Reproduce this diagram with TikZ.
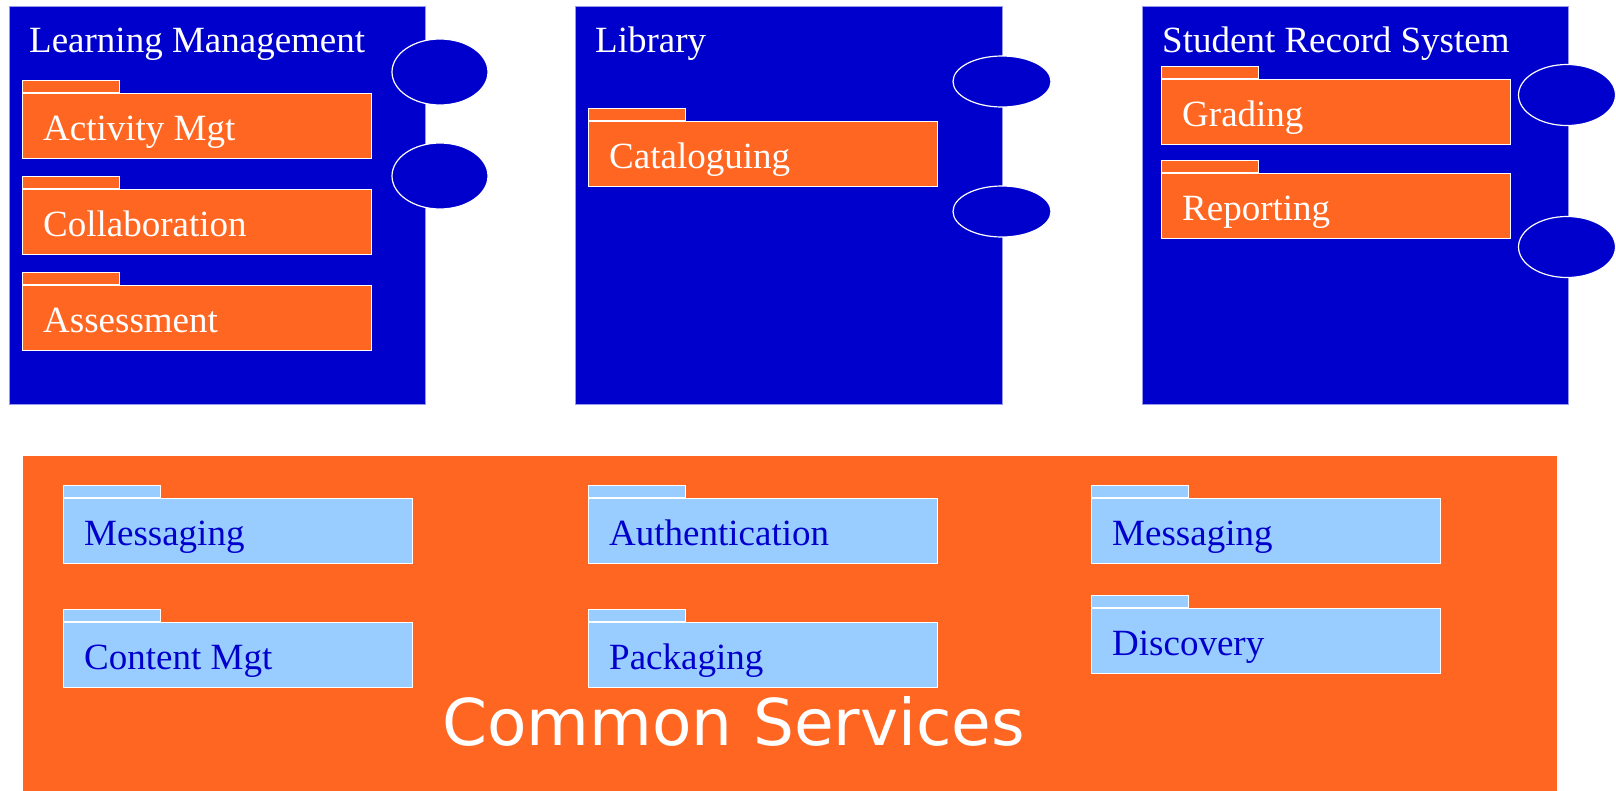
\documentclass[tikz,border=0pt]{standalone}
\usepackage{fontspec}
\setmainfont{Liberation Serif}
\newfontfamily\commonfont{DejaVu Sans}
\usetikzlibrary{shapes.geometric,positioning}
\definecolor{sysblue}{HTML}{0000CC}
\definecolor{pkgorange}{HTML}{FF6622}
\definecolor{pkglight}{HTML}{99CCFF}

% package folder: name, position, fill, text colour, label
\newcommand{\folder}[5]{%
  \node[pkgbody, fill=#3] (#1) at #2 {};
  \node[pkgtab, fill=#3] (#1-tab) at (#1.north west) {};
  \node[pkglabel, text=#4] (#1-text) at ([xshift=21pt,yshift=19pt]#1.south west) {#5};}

\begin{document}
\begin{tikzpicture}[x=1pt, y=-1pt,
    sysbox/.style={rectangle, fill=sysblue, draw=white!60!sysblue, line width=0.6pt, anchor=north west, inner sep=0pt, minimum height=398},
    systitle/.style={anchor=base west, inner sep=0pt, text=white, font=\fontsize{37}{40}\selectfont},
    pkgbody/.style={rectangle, draw=white, line width=1.2pt, inner sep=0pt, minimum width=349, minimum height=65, anchor=north west},
    pkgtab/.style={rectangle, draw=white, line width=1.2pt, inner sep=0pt, minimum width=97, minimum height=12, anchor=south west},
    pkglabel/.style={anchor=base west, inner sep=0pt, font=\fontsize{37}{40}\selectfont},
    iface/.style={ellipse, fill=sysblue, draw=white, line width=1.2pt, inner sep=0pt}]
  \useasboundingbox[fill=white] (0,0) rectangle (1616,790);

  % systems
  \node[sysbox, minimum width=416] (lm) at (9,6) {};
  \node[sysbox, minimum width=427] (lib) at (575,6) {};
  \node[sysbox, minimum width=426] (srs) at (1142,6) {};
  \node[systitle] (lm-title) at (29,52) {Learning Management};
  \node[systitle] (lib-title) at (595,52) {Library};
  \node[systitle] (srs-title) at (1162,52) {Student Record System};

  \folder{activity}{(22,93)}{pkgorange}{white}{Activity Mgt}
  \folder{collab}{(22,189)}{pkgorange}{white}{Collaboration}
  \folder{assess}{(22,285)}{pkgorange}{white}{Assessment}
  \folder{catalog}{(588,121)}{pkgorange}{white}{Cataloguing}
  \folder{grading}{(1161,79)}{pkgorange}{white}{Grading}
  \folder{report}{(1161,173)}{pkgorange}{white}{Reporting}

  % interfaces
  \node[iface, minimum width=96, minimum height=66] (lm-if1) at (440,72) {};
  \node[iface, minimum width=96, minimum height=66] (lm-if2) at (440,176) {};
  \node[iface, minimum width=98, minimum height=51] (lib-if1) at (1002,81.5) {};
  \node[iface, minimum width=98, minimum height=51] (lib-if2) at (1002,211.5) {};
  \node[iface, minimum width=97, minimum height=61] (srs-if1) at (1567,95) {};
  \node[iface, minimum width=97, minimum height=61] (srs-if2) at (1567,247) {};

  % common services
  \node[rectangle, fill=pkgorange, anchor=north west, inner sep=0pt, minimum width=1534, minimum height=340] (common) at (23,456) {};
  \folder{msg1}{(63,498)}{pkglight}{sysblue}{Messaging}
  \folder{content}{(63,622)}{pkglight}{sysblue}{Content Mgt}
  \folder{auth}{(588,498)}{pkglight}{sysblue}{Authentication}
  \folder{packaging}{(588,622)}{pkglight}{sysblue}{Packaging}
  \folder{msg2}{(1091,498)}{pkglight}{sysblue}{Messaging}
  \folder{discovery}{(1091,608)}{pkglight}{sysblue}{Discovery}
  \node[anchor=base west, inner sep=0pt, text=white, font=\commonfont\fontsize{64.5}{70}\selectfont] (common-title) at (442,745) {Common Services};
\end{tikzpicture}
\end{document}
